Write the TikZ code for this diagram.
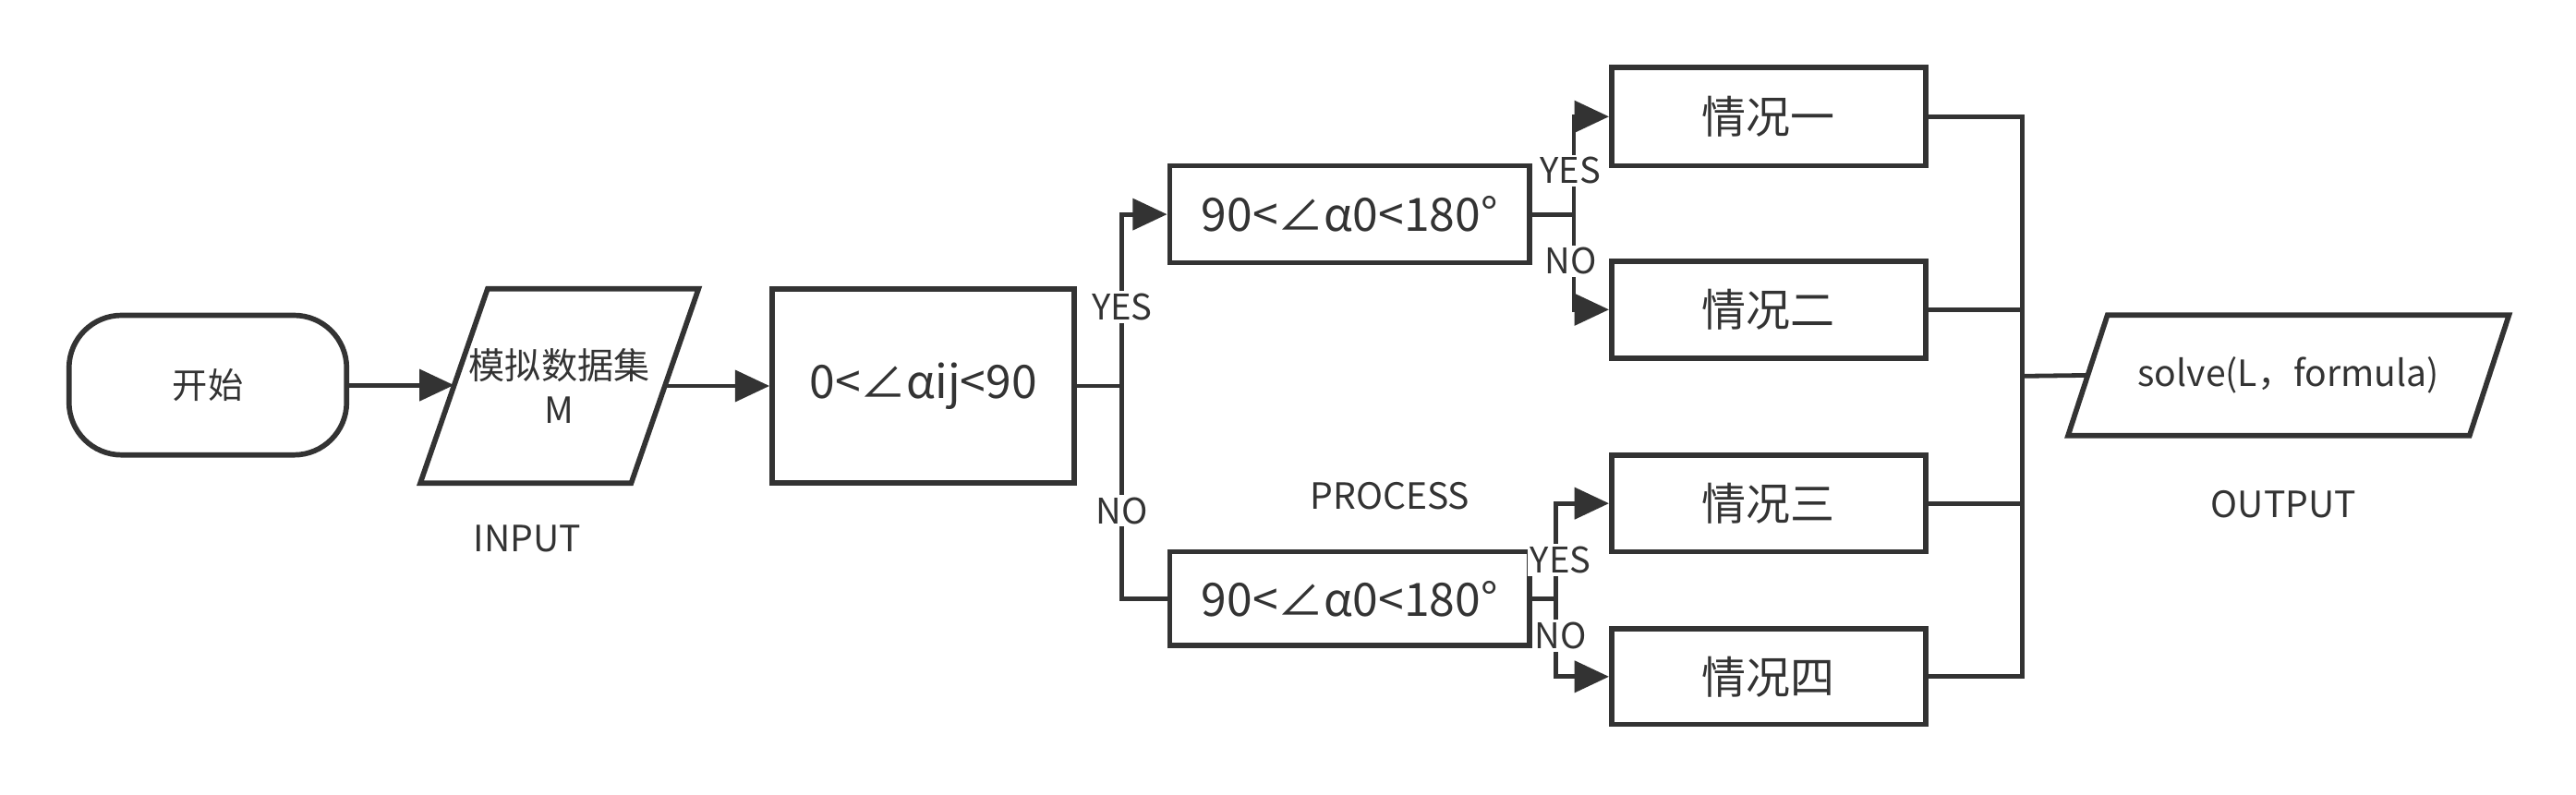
\documentclass[tikz,border=0pt]{standalone}
\usepackage{fontspec}
\setmainfont{Noto Sans CJK SC}
\usetikzlibrary{arrows.meta,calc}
\definecolor{ink}{HTML}{333333}
\begin{document}
\begin{tikzpicture}[x=1pt,y=-1pt,
  box/.style={draw=ink, line width=3.2pt, fill=white, inner sep=0pt, text=ink, font=\fontsize{27}{32}\selectfont},
  txt/.style={inner sep=0pt, text=ink, align=center},
  conn/.style={draw=ink, line width=2.7pt},
  arr/.style={conn, -{Triangle[length=21pt,width=19pt]}},
  lbl/.style={fill=white, inner sep=1.5pt, text=ink, font=\fontsize{21.5}{24}\selectfont},
  captext/.style={inner sep=0pt, text=ink, font=\fontsize{22}{24}\selectfont},
  para/.style={draw=ink, line width=3.2pt, line join=miter}
]
\useasboundingbox (0,0) rectangle (1568,484);

% start
\node[box, rounded corners=32pt, minimum width=169pt, minimum height=85pt, font=\fontsize{21.5}{24}\selectfont] (start) at (126.5,234.5) {开始};

% input parallelogram
\node[txt, minimum width=128pt, minimum height=118pt, font=\fontsize{22}{27}\selectfont] (in) at (340.5,235) {模拟数据集\\M};
\draw[para] ($(in.north west)+(20.5,0)$) -- ($(in.north east)+(20.5,0)$) -- ($(in.south east)+(-20.5,0)$) -- ($(in.south west)+(-20.5,0)$) -- cycle;
\node[captext] (inputlbl) at (321,328) {INPUT};

% decision boxes
\node[box, minimum width=184pt, minimum height=118pt, font=\fontsize{28}{32}\selectfont] (c0) at (562,235) {0<∠αij<90};
\node[box, minimum width=219pt, minimum height=59pt, font=\fontsize{28}{32}\selectfont] (c1) at (821.5,130.5) {90<∠α0<180°};
\node[box, minimum width=219pt, minimum height=57pt, font=\fontsize{28}{32}\selectfont] (c2) at (821.5,364.5) {90<∠α0<180°};
\node[captext] (proclbl) at (846,302) {PROCESS};

% cases
\node[box, minimum width=191pt, minimum height=60pt] (q1) at (1076.5,71) {情况一};
\node[box, minimum width=191pt, minimum height=59pt] (q2) at (1076.5,188.5) {情况二};
\node[box, minimum width=191pt, minimum height=59pt] (q3) at (1076.5,306.5) {情况三};
\node[box, minimum width=191pt, minimum height=58pt] (q4) at (1076.5,412) {情况四};

% output parallelogram
\node[txt, minimum width=244pt, minimum height=73pt, font=\fontsize{22}{24}\selectfont] (out) at (1393,228.5) {solve(L，formula)};
\draw[para] ($(out.north west)+(12,0)$) -- ($(out.north east)+(12,0)$) -- ($(out.south east)+(-12,0)$) -- ($(out.south west)+(-12,0)$) -- cycle;
\node[captext] (outlbl) at (1390,307) {OUTPUT};

% branch points
\coordinate (b0) at (683,235);
\coordinate (b1) at (958,130.5);
\coordinate (b2) at (947,364.5);
\coordinate (m) at (1231,229);

% connectors
\draw[arr] (start.east) -- (start.east -| in.west);
\draw[arr] (in.east |- c0.west) -- (c0.west);
\draw[conn] (c0.east) -- (b0);
\draw[arr] (b0) |- (c1.west);
\draw[conn] (b0) |- (c2.west);
\draw[conn] (c1.east) -- (b1);
\draw[arr] (b1) |- (q1.west);
\draw[arr] (b1) |- (q2.west);
\draw[conn] (c2.east) -- (b2);
\draw[arr] (b2) |- (q3.west);
\draw[arr] (b2) |- (q4.west);
\draw[conn] (q1.east) -| (m);
\draw[conn] (q4.east) -| (m);
\draw[conn] (q2.east) -- (q2.east -| m);
\draw[conn] (q3.east) -- (q3.east -| m);
\draw[conn] (m) -- (out.west);

% branch labels
\node[lbl] (y0) at (683,187) {YES};
\node[lbl] (n0) at (683,311) {NO};
\node[lbl] (y1) at (956,104) {YES};
\node[lbl] (n1) at (956,159) {NO};
\node[lbl] (y2) at (950,341) {YES};
\node[lbl] (n2) at (950,387) {NO};
\end{tikzpicture}
\end{document}
